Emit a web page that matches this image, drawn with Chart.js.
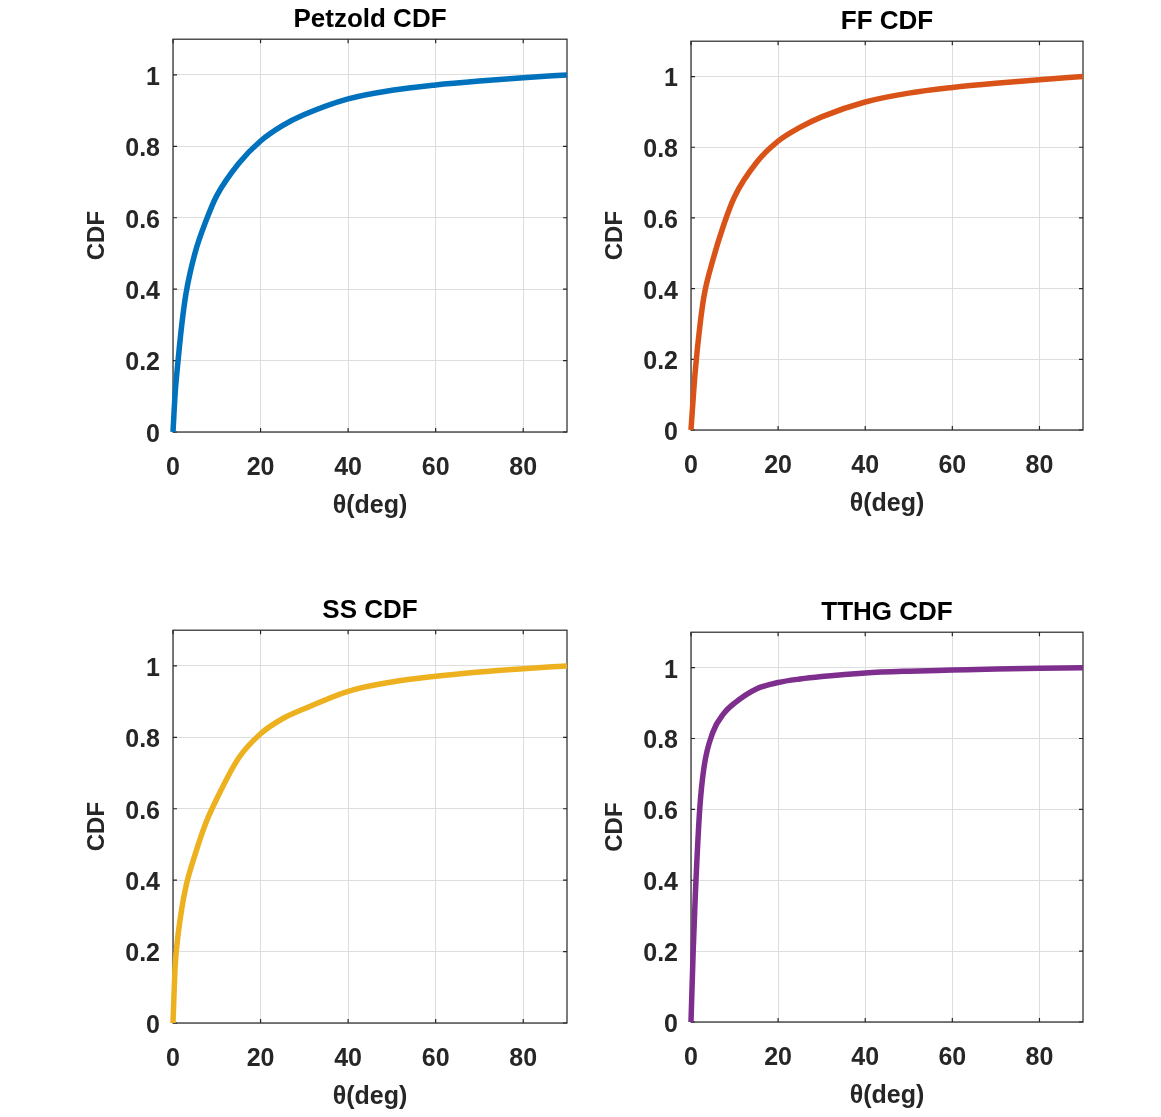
<!DOCTYPE html>
<html>
<head>
<meta charset="utf-8">
<script src="https://cdn.jsdelivr.net/npm/chart.js@4.4.1/dist/chart.umd.min.js"></script>
<style>
  body { margin: 0; background: #fff; width: 1161px; height: 1117px; overflow: hidden; position: relative; }
  canvas { position: absolute; }
</style>
</head>
<body>
<canvas id="c1" style="left:60px;top:0px"></canvas>
<canvas id="c2" style="left:578px;top:2px"></canvas>
<canvas id="c3" style="left:60px;top:591px"></canvas>
<canvas id="c4" style="left:578px;top:593px"></canvas>
<script>
// angle grid (deg)
var thetaDeg = [0, 0.5, 1, 2, 3, 5, 7.5, 10, 15, 20, 25, 30, 40, 50, 60, 70, 80, 90];

var petzoldCdf = [0, 0.11, 0.18, 0.3, 0.39, 0.5, 0.59, 0.662, 0.752, 0.815, 0.858, 0.889, 0.933, 0.957, 0.972, 0.983, 0.992, 1.0];
var ffCdf      = [0, 0.09, 0.17, 0.29, 0.38, 0.48, 0.58, 0.66, 0.756, 0.817, 0.856, 0.886, 0.928, 0.953, 0.969, 0.981, 0.991, 1.0];
var ssCdf      = [0, 0.16, 0.23, 0.32, 0.385, 0.47, 0.56, 0.628, 0.742, 0.81, 0.852, 0.88, 0.929, 0.955, 0.971, 0.983, 0.992, 1.0];
var tthgCdf    = [0, 0.2, 0.36, 0.6, 0.72, 0.817, 0.87, 0.9, 0.94, 0.958, 0.968, 0.975, 0.985, 0.99, 0.993, 0.996, 0.998, 1.0];

var xTicks = [0, 20, 40, 60, 80];
var yTicks = [0, 0.2, 0.4, 0.6, 0.8, 1];

var fontFam = '"Liberation Sans", Arial, Helvetica, sans-serif';
var axisColor = '#262626';

// matlab-like box with inward tick marks
var boxPlugin = {
  id: 'box',
  beforeDatasetsDraw: function(chart) {
    var a = chart.chartArea, ctx = chart.ctx;
    var xs = chart.scales.x, ys = chart.scales.y;
    ctx.save();
    ctx.strokeStyle = axisColor;
    ctx.lineWidth = 1.2;
    ctx.strokeRect(a.left, a.top, a.right - a.left, a.bottom - a.top);
    ctx.beginPath();
    xTicks.forEach(function(v) {
      var px = xs.getPixelForValue(v);
      ctx.moveTo(px, a.bottom); ctx.lineTo(px, a.bottom - 4);
      ctx.moveTo(px, a.top); ctx.lineTo(px, a.top + 4);
    });
    yTicks.forEach(function(v) {
      var py = ys.getPixelForValue(v);
      ctx.moveTo(a.left, py); ctx.lineTo(a.left + 4, py);
      ctx.moveTo(a.right, py); ctx.lineTo(a.right - 4, py);
    });
    ctx.stroke();
    ctx.restore();
  }
};

function makePanel(id, w, h, title, cdf, color) {
  var cv = document.getElementById(id);
  cv.width = w; cv.height = h;
  var pts = thetaDeg.map(function(t, i) { return { x: t, y: cdf[i] }; });
  return new Chart(cv, {
    type: 'line',
    data: {
      datasets: [{
        data: pts,
        borderColor: color,
        borderWidth: 5.5,
        pointRadius: 0,
        fill: false,
        cubicInterpolationMode: 'monotone',
        clip: false
      }]
    },
    options: {
      responsive: false,
      animation: false,
      events: [],
      layout: { padding: { left: 0, right: 13, top: 0, bottom: 0 } },
      plugins: {
        legend: { display: false },
        tooltip: { enabled: false },
        title: {
          display: true,
          text: title,
          fullSize: false,
          color: '#000',
          font: { family: fontFam, size: 26, weight: 'bold' },
          padding: { top: 4, bottom: 4 }
        }
      },
      scales: {
        x: {
          type: 'linear',
          min: 0, max: 90,
          afterFit: function(s) { s.height = 90; },
          afterBuildTicks: function(s) { s.ticks = xTicks.map(function(v) { return { value: v }; }); },
          grid: { color: '#dedede', lineWidth: 1, drawTicks: false },
          border: { display: false },
          ticks: { color: axisColor, padding: 21, maxRotation: 0, font: { family: fontFam, size: 25, weight: 'bold' } },
          title: { display: true, text: 'θ(deg)', color: axisColor, padding: { top: 0, bottom: 1 },
                   font: { family: fontFam, size: 25, weight: 'bold' } }
        },
        y: {
          min: 0, max: 1.1,
          afterFit: function(s) { s.width = 113; },
          afterBuildTicks: function(s) { s.ticks = yTicks.map(function(v) { return { value: v }; }); },
          grid: { color: '#dedede', lineWidth: 1, drawTicks: false },
          border: { display: false },
          ticks: { color: axisColor, padding: 13, labelOffset: 3, font: { family: fontFam, size: 25, weight: 'bold' },
                   callback: function(v) { return String(Math.round(v * 10) / 10); } },
          title: { display: true, text: 'CDF', color: axisColor, padding: { top: 23, bottom: 0 },
                   font: { family: fontFam, size: 24, weight: 'bold' } }
        }
      }
    },
    plugins: [boxPlugin]
  });
}

makePanel('c1', 520, 522, 'Petzold CDF', petzoldCdf, '#0072BD');
makePanel('c2', 518, 518, 'FF CDF', ffCdf, '#D95319');
makePanel('c3', 520, 522, 'SS CDF', ssCdf, '#EDB120');
makePanel('c4', 518, 519, 'TTHG CDF', tthgCdf, '#7E2F8E');
</script>
</body>
</html>
